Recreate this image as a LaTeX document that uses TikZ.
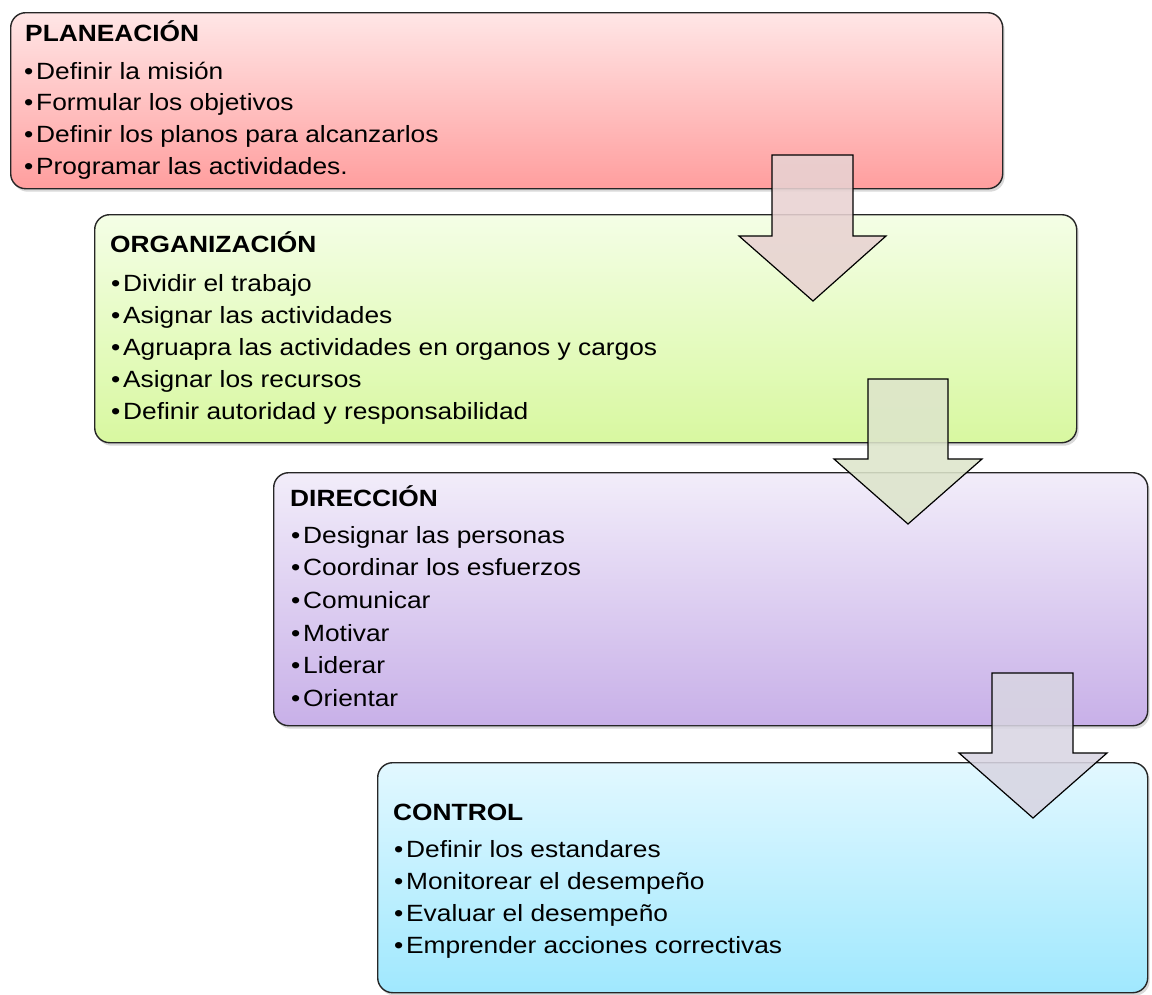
\documentclass[tikz,border=0pt]{standalone}
\usepackage{fontspec}
\setmainfont{Liberation Sans}[FakeStretch=1.12]
\usetikzlibrary{shadows}
\definecolor{rtop}{HTML}{FFE6E6}
\definecolor{rbot}{HTML}{FF9E9E}
\definecolor{gtop}{HTML}{F4FEE6}
\definecolor{gbot}{HTML}{D8F8A0}
\definecolor{ptop}{HTML}{F2EDFA}
\definecolor{pbot}{HTML}{C8B0E8}
\definecolor{ctop}{HTML}{E2F8FF}
\definecolor{cbot}{HTML}{A0E8FE}
\definecolor{aone}{HTML}{E8D2D2}
\definecolor{atwo}{HTML}{DDE5CB}
\definecolor{athree}{HTML}{D8D5E2}
\newcommand\bul{\makebox[12pt][l]{•}}
\tikzset{
  stagebox/.style={draw=black!85, line width=1.4pt, rounded corners=15pt,
    anchor=north west, inner sep=0pt,
    drop shadow={shadow xshift=2pt, shadow yshift=-3pt, opacity=0.3}},
  ttl/.style={anchor=base west, inner sep=0pt, font=\fontsize{23.5}{28}\selectfont\bfseries},
  itm/.style={anchor=base west, inner sep=0pt, font=\fontsize{23.5}{28}\selectfont},
  blockarrow/.style={draw=black, line width=1.2pt, fill opacity=0.88, line join=miter}
}
\begin{document}
\begin{tikzpicture}[x=1pt,y=-1pt]
\useasboundingbox (0,0) rectangle (1152,994);
% boxes
\node[stagebox, top color=rtop, bottom color=rbot, minimum width=992pt, minimum height=176pt] (plan) at (10,12) {};
\node[stagebox, top color=gtop, bottom color=gbot, minimum width=982pt, minimum height=228pt] (org) at (94,214) {};
\node[stagebox, top color=ptop, bottom color=pbot, minimum width=874pt, minimum height=253pt] (dir) at (273,472) {};
\node[stagebox, top color=ctop, bottom color=cbot, minimum width=770pt, minimum height=230pt] (ctl) at (377,762) {};
% texts
\node[ttl] (plan-t) at (25,41) {PLANEACIÓN};
\node[itm] (plan-1) at (24,79) {\bul Definir la misión};
\node[itm] (plan-2) at (24,110.5) {\bul Formular los objetivos};
\node[itm] (plan-3) at (24,142) {\bul Definir los planos para alcanzarlos};
\node[itm] (plan-4) at (24,174) {\bul Programar las actividades.};
\node[ttl] (org-t) at (110,252) {ORGANIZACIÓN};
\node[itm] (org-1) at (111,291.5) {\bul Dividir el trabajo};
\node[itm] (org-2) at (111,323) {\bul Asignar las actividades};
\node[itm] (org-3) at (111,355) {\bul Agruapra las actividades en organos y cargos};
\node[itm] (org-4) at (111,387) {\bul Asignar los recursos};
\node[itm] (org-5) at (111,419.5) {\bul Definir autoridad y responsabilidad};
\node[ttl] (dir-t) at (290,506) {DIRECCIÓN};
\node[itm] (dir-1) at (291,543.5) {\bul Designar las personas};
\node[itm] (dir-2) at (291,575.5) {\bul Coordinar los esfuerzos};
\node[itm] (dir-3) at (291,608) {\bul Comunicar};
\node[itm] (dir-4) at (291,641) {\bul Motivar};
\node[itm] (dir-5) at (291,673.5) {\bul Liderar};
\node[itm] (dir-6) at (291,706) {\bul Orientar};
\node[ttl] (ctl-t) at (393,820) {CONTROL};
\node[itm] (ctl-1) at (394,857) {\bul Definir los estandares};
\node[itm] (ctl-2) at (394,889.5) {\bul Monitorear el desempeño};
\node[itm] (ctl-3) at (394,921) {\bul Evaluar el desempeño};
\node[itm] (ctl-4) at (394,953.5) {\bul Emprender acciones correctivas};
% block arrows
\draw[blockarrow, fill=aone] (772,155) -- (853,155) -- (853,236) -- (886,236) -- (813,301) -- (739,236) -- (772,236) -- cycle;
\draw[blockarrow, fill=atwo] (868,379) -- (948,379) -- (948,459) -- (982,459) -- (908,524) -- (834,459) -- (868,459) -- cycle;
\draw[blockarrow, fill=athree] (992,673) -- (1073,673) -- (1073,753) -- (1107,753) -- (1033,818) -- (959,753) -- (992,753) -- cycle;
\end{tikzpicture}
\end{document}
